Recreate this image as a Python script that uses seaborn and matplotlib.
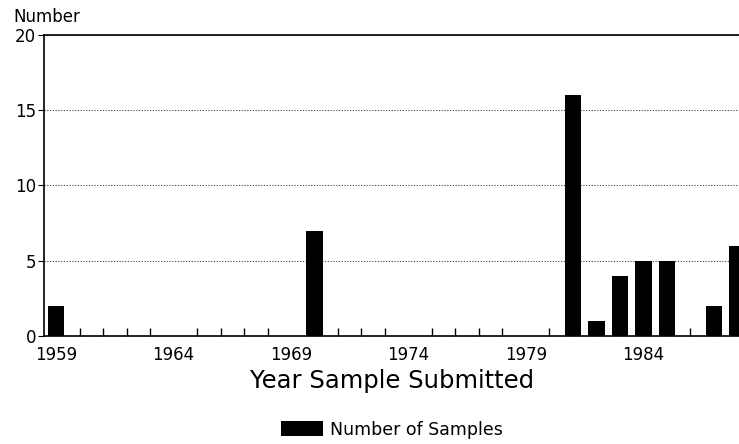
import matplotlib
matplotlib.use("Agg")
import matplotlib.pyplot as plt
from matplotlib.ticker import MultipleLocator
import seaborn as sns

# Samples submitted per year (years with no samples omitted)
years = [1959, 1970, 1981, 1982, 1983, 1984, 1985, 1987, 1988]
counts = [2, 7, 16, 1, 4, 5, 5, 2, 6]
major_years = [1959, 1964, 1969, 1974, 1979, 1984]

sns.set_style("white")
plt.rcParams['font.family'] = ['DejaVu Sans']
plt.rcParams['text.color'] = 'black'
plt.rcParams['xtick.color'] = 'black'
plt.rcParams['ytick.color'] = 'black'
plt.rcParams['axes.labelcolor'] = 'black'

fig = plt.figure(figsize=(7.39, 4.44), dpi=100)
ax = fig.add_axes([0.06, 0.243, 0.94, 0.679])

sns.barplot(x=years, y=counts, native_scale=True, width=0.7, color="black",
            saturation=1, linewidth=0, edgecolor="black",
            label="Number of Samples", ax=ax, zorder=3)

ax.set_xlim(1958.5, 1988.07)
ax.set_ylim(0, 20)

# dotted reference lines
ax.yaxis.grid(True, linestyle=(0, (1, 1.5)), color="#444444", linewidth=0.8, zorder=0)
ax.set_axisbelow(True)

ax.set_xticks(major_years)
ax.set_xticklabels([str(y) for y in major_years], fontsize=12)
ax.xaxis.set_minor_locator(MultipleLocator(1))
ax.tick_params(axis="x", which="major", direction="inout", length=12, width=1, pad=1)
ax.tick_params(axis="x", which="minor", direction="in", length=6, width=1, bottom=True)
ax.set_yticks([0, 5, 10, 15, 20])
ax.tick_params(axis="y", direction="out", length=4, width=0.8, labelsize=12, pad=2, left=True)

for side in ["left", "bottom", "top"]:
    ax.spines[side].set_visible(True)
    ax.spines[side].set_color("black")
    ax.spines[side].set_linewidth(1.2)
ax.spines["right"].set_visible(False)

ax.set_xlabel("Year Sample Submitted", fontsize=17.5, labelpad=4)
ax.set_ylabel("")
fig.text(0.018, 0.962, "Number", fontsize=12, ha="left", va="center")

handles, labels = ax.get_legend_handles_labels()
if ax.legend_:
    ax.legend_.remove()
fig.legend(handles, labels, loc="center", bbox_to_anchor=(0.53, 0.032), frameon=False,
           fontsize=12.5, handlelength=2.4, handleheight=0.95, handletextpad=0.4)

fig.savefig("out.png", dpi=100)
